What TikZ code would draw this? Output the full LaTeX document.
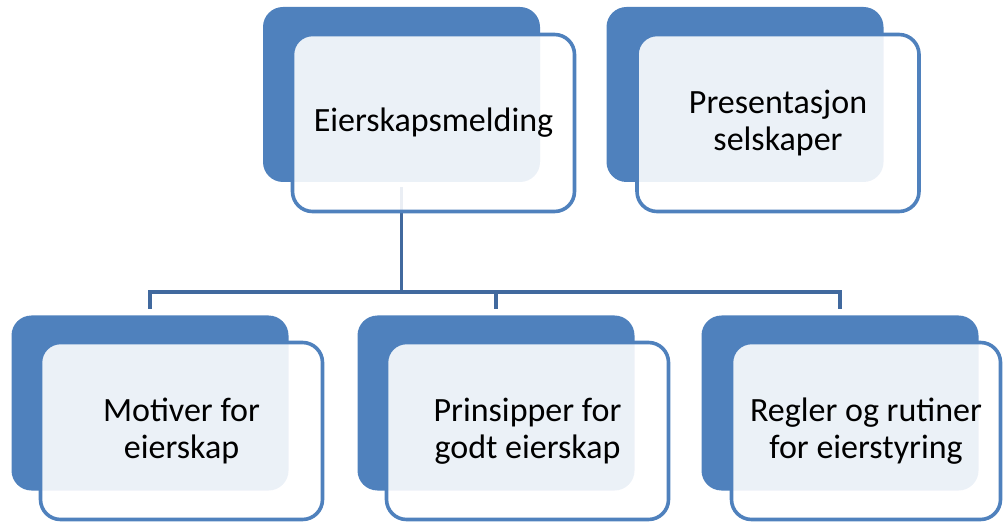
\documentclass[tikz,border=0pt]{standalone}
\usepackage{fontspec}
\setmainfont{Carlito}
\definecolor{accent}{HTML}{4F81BD}
\definecolor{conn}{HTML}{41699E}
\begin{document}
\begin{tikzpicture}[x=0.75pt,y=-0.75pt,
  backbox/.style={rectangle, rounded corners=15pt, fill=accent, draw=none,
    minimum width=207.75pt, minimum height=131.25pt, inner sep=0pt},
  frontbox/.style={rectangle, rounded corners=15pt, draw=accent, line width=2.7pt,
    fill=white, fill opacity=0.89, draw opacity=1, text opacity=1,
    minimum width=211.5pt, minimum height=132.75pt, inner sep=2pt, align=center,
    font=\fontsize{25.5}{28}\selectfont, text=black},
  link/.style={draw=conn, line width=2.5pt}]
\useasboundingbox (0,0) rectangle (1005,523);
% back boxes
\node[backbox] (b1) at (401.5,94.5) {};
\node[backbox] (b2) at (745,94.5) {};
\node[backbox] (b3) at (150,403) {};
\node[backbox] (b4) at (496,403) {};
\node[backbox] (b5) at (840,403) {};
% connectors
\coordinate (bus) at (401.5,292);
\draw[link, shorten <=3.75pt] (b1.south) -- (b1.south |- bus);
\draw[link, line cap=rect] (b3.north |- bus) -- (b5.north |- bus);
\draw[link, shorten >=4.5pt] (b3.north |- bus) -- (b3.north);
\draw[link, shorten >=4.5pt] (b4.north |- bus) -- (b4.north);
\draw[link, shorten >=4.5pt] (b5.north |- bus) -- (b5.north);
% front boxes
\node[frontbox] (f1) at (433.5,123) {Eierskapsmelding};
\node[frontbox] (f2) at (778,123) {Presentasjon\\selskaper};
\node[frontbox] (f3) at (181.5,431) {Motiver for\\eierskap};
\node[frontbox] (f4) at (527.5,431) {Prinsipper for\\godt eierskap};
\node[frontbox, minimum width=201.75pt] (f5) at (866,431) {Regler og rutiner\\for eierstyring};
\end{tikzpicture}
\end{document}
